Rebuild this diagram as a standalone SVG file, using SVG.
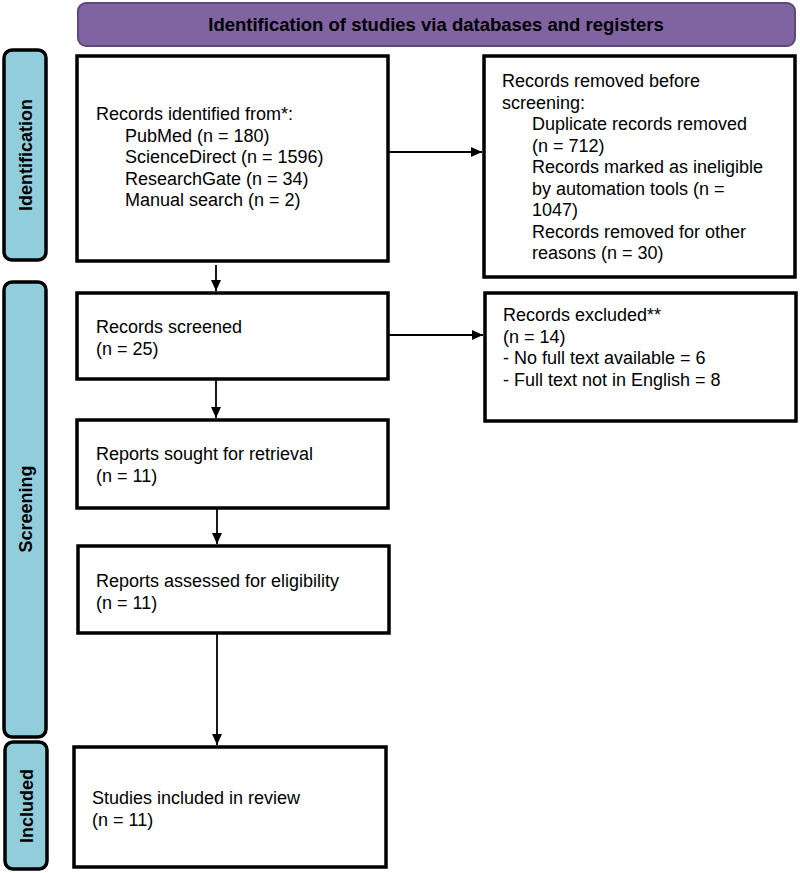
<svg xmlns="http://www.w3.org/2000/svg" width="800" height="873" viewBox="0 0 800 873">
<defs>
<style>
.box{fill:#fff;stroke:#000;stroke-width:3.5}
.side{fill:#92cddc;stroke:#000;stroke-width:3.5}
.t{font-family:"Liberation Sans",Arial,sans-serif;font-size:18px;fill:#000}
.b{font-family:"Liberation Sans",Arial,sans-serif;font-size:18px;font-weight:bold;fill:#000}
.c{stroke:#000;stroke-width:1.8;fill:none}
</style>
<marker id="ah" viewBox="0 0 10 10" refX="10" refY="5" markerWidth="11" markerHeight="10" markerUnits="userSpaceOnUse" orient="auto" preserveAspectRatio="none">
<path d="M0,0 L10,5 L0,10 z" fill="#000"/>
</marker>
</defs>
<rect width="800" height="873" fill="#fff"/>
<g id="banner">
<rect x="78" y="3" width="717" height="43" rx="8" fill="#8064a2" stroke="#5f497a" stroke-width="2"/>
<text class="b" x="436" y="31" text-anchor="middle" style="font-size:18.5px">Identification of studies via databases and registers</text>
</g>
<g id="side-identification">
<rect class="side" x="4" y="50" width="42" height="210" rx="8"/>
<text class="b" transform="translate(32,155) rotate(-90)" text-anchor="middle">Identification</text>
</g>
<g id="side-screening">
<rect class="side" x="4" y="282" width="42" height="455" rx="8"/>
<text class="b" transform="translate(32,509) rotate(-90)" text-anchor="middle">Screening</text>
</g>
<g id="side-included">
<rect class="side" x="5" y="742" width="42" height="127" rx="8"/>
<text class="b" transform="translate(33,806) rotate(-90)" text-anchor="middle">Included</text>
</g>
<g id="records-identified">
<rect class="box" x="77" y="56" width="311" height="205"/>
<text class="t" x="96" y="120">Records identified from*:</text>
<text class="t" x="125" y="141.5">PubMed (n = 180)</text>
<text class="t" x="125" y="163">ScienceDirect (n = 1596)</text>
<text class="t" x="125" y="184.5">ResearchGate (n = 34)</text>
<text class="t" x="125" y="206">Manual search (n = 2)</text>
</g>
<g id="records-removed">
<rect class="box" x="484" y="56" width="311" height="221"/>
<text class="t" x="502" y="87">Records removed before</text>
<text class="t" x="502" y="108.5">screening:</text>
<text class="t" x="532" y="130">Duplicate records removed</text>
<text class="t" x="532" y="151.5">(n = 712)</text>
<text class="t" x="532" y="173">Records marked as ineligible</text>
<text class="t" x="532" y="194.5">by automation tools (n =</text>
<text class="t" x="532" y="216">1047)</text>
<text class="t" x="532" y="237.5">Records removed for other</text>
<text class="t" x="532" y="259">reasons (n = 30)</text>
</g>
<g id="records-screened">
<rect class="box" x="77" y="293" width="311" height="86"/>
<text class="t" x="96" y="333">Records screened</text>
<text class="t" x="96" y="354.5">(n = 25)</text>
</g>
<g id="records-excluded">
<rect class="box" x="485" y="293" width="311" height="128"/>
<text class="t" x="503" y="321">Records excluded**</text>
<text class="t" x="503" y="342.5">(n = 14)</text>
<text class="t" x="503" y="364">- No full text available = 6</text>
<text class="t" x="503" y="385.5">- Full text not in English = 8</text>
</g>
<g id="reports-sought">
<rect class="box" x="77" y="420" width="311" height="88"/>
<text class="t" x="96" y="460">Reports sought for retrieval</text>
<text class="t" x="96" y="481.5">(n = 11)</text>
</g>
<g id="reports-assessed">
<rect class="box" x="78" y="546" width="311" height="87"/>
<text class="t" x="96" y="587">Reports assessed for eligibility</text>
<text class="t" x="96" y="608.5">(n = 11)</text>
</g>
<g id="studies-included">
<rect class="box" x="74" y="747" width="312" height="120"/>
<text class="t" x="92" y="804">Studies included in review</text>
<text class="t" x="92" y="826">(n = 11)</text>
</g>
<g id="connectors">
<line class="c" x1="388" y1="152" x2="482" y2="152" marker-end="url(#ah)"/>
<line class="c" x1="216" y1="265" x2="216" y2="291" marker-end="url(#ah)"/>
<line class="c" x1="388" y1="335" x2="483" y2="335" marker-end="url(#ah)"/>
<line class="c" x1="216" y1="379" x2="216" y2="418" marker-end="url(#ah)"/>
<line class="c" x1="217" y1="508" x2="217" y2="544" marker-end="url(#ah)"/>
<line class="c" x1="217" y1="633" x2="217" y2="745" marker-end="url(#ah)"/>
</g>
</svg>
